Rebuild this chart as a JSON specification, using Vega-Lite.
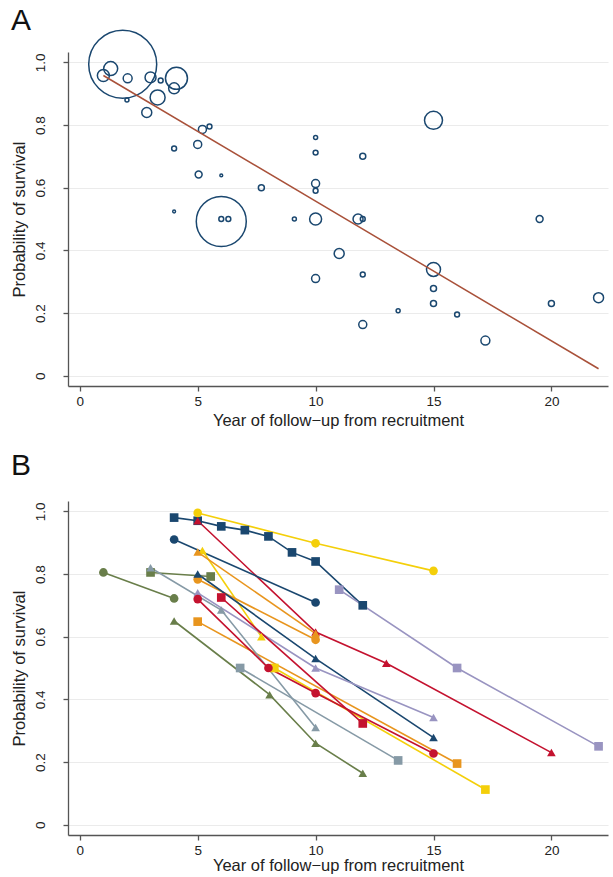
{
  "$schema": "https://vega.github.io/schema/vega-lite/v6.json",
  "background": "white",
  "padding": {"left": 11, "top": 6, "right": 3, "bottom": 2},
  "spacing": 22,
  "config": {
    "font": "Liberation Sans",
    "view": {"stroke": null},
    "axis": {
      "domainColor": "#555555",
      "domainWidth": 1.3,
      "tickColor": "#555555",
      "tickWidth": 1.3,
      "tickSize": 5,
      "labelFontSize": 13.5,
      "labelColor": "#222222",
      "titleFontSize": 16.5,
      "titleFontWeight": "normal",
      "titleColor": "#222222",
      "gridColor": "#ebebeb",
      "gridWidth": 1
    },
    "title": {"fontSize": 30, "fontWeight": "normal", "anchor": "start", "frame": "bounds", "color": "#111111"}
  },
  "datasets": {
    "bubbles": [
      {"year": 1.82, "surv": 0.994, "weight": 1156},
      {"year": 1.31, "surv": 0.98, "weight": 49},
      {"year": 1.0, "surv": 0.958, "weight": 36},
      {"year": 2.03, "surv": 0.949, "weight": 20},
      {"year": 2.0, "surv": 0.88, "weight": 4},
      {"year": 3.0, "surv": 0.952, "weight": 30},
      {"year": 3.43, "surv": 0.942, "weight": 6},
      {"year": 4.1, "surv": 0.949, "weight": 121},
      {"year": 4.0, "surv": 0.917, "weight": 30},
      {"year": 3.3, "surv": 0.888, "weight": 56},
      {"year": 2.84, "surv": 0.84, "weight": 25},
      {"year": 5.2, "surv": 0.786, "weight": 16},
      {"year": 5.5, "surv": 0.795, "weight": 6},
      {"year": 4.0, "surv": 0.725, "weight": 6},
      {"year": 5.0, "surv": 0.738, "weight": 16},
      {"year": 10.0, "surv": 0.76, "weight": 4},
      {"year": 10.0, "surv": 0.712, "weight": 6},
      {"year": 12.0, "surv": 0.70, "weight": 9},
      {"year": 15.0, "surv": 0.815, "weight": 81},
      {"year": 5.04, "surv": 0.642, "weight": 12},
      {"year": 6.0, "surv": 0.639, "weight": 2},
      {"year": 7.7, "surv": 0.60, "weight": 9},
      {"year": 10.0, "surv": 0.613, "weight": 16},
      {"year": 10.0, "surv": 0.59, "weight": 6},
      {"year": 6.0, "surv": 0.492, "weight": 625},
      {"year": 6.0, "surv": 0.50, "weight": 6},
      {"year": 6.3, "surv": 0.50, "weight": 6},
      {"year": 9.1, "surv": 0.50, "weight": 4},
      {"year": 10.0, "surv": 0.50, "weight": 36},
      {"year": 11.8, "surv": 0.50, "weight": 25},
      {"year": 12.0, "surv": 0.50, "weight": 6},
      {"year": 11.0, "surv": 0.39, "weight": 25},
      {"year": 15.0, "surv": 0.339, "weight": 49},
      {"year": 12.0, "surv": 0.323, "weight": 6},
      {"year": 10.0, "surv": 0.31, "weight": 16},
      {"year": 15.0, "surv": 0.278, "weight": 9},
      {"year": 15.0, "surv": 0.23, "weight": 9},
      {"year": 13.5, "surv": 0.207, "weight": 4},
      {"year": 16.0, "surv": 0.195, "weight": 6},
      {"year": 12.0, "surv": 0.163, "weight": 16},
      {"year": 19.5, "surv": 0.50, "weight": 12},
      {"year": 20.0, "surv": 0.23, "weight": 9},
      {"year": 22.0, "surv": 0.249, "weight": 25},
      {"year": 17.2, "surv": 0.112, "weight": 20},
      {"year": 4.0, "surv": 0.524, "weight": 2}
    ],
    "fit": [
      {"year": 1.0, "surv": 0.958},
      {"year": 22.0, "surv": 0.022}
    ],
    "studies": [
      {"study": "S01", "year": 4, "surv": 0.98},
      {"study": "S01", "year": 5, "surv": 0.97},
      {"study": "S01", "year": 6, "surv": 0.952},
      {"study": "S01", "year": 7, "surv": 0.94},
      {"study": "S01", "year": 8, "surv": 0.92},
      {"study": "S01", "year": 9, "surv": 0.869},
      {"study": "S01", "year": 10, "surv": 0.84},
      {"study": "S01", "year": 12, "surv": 0.70},
      {"study": "S02", "year": 5, "surv": 0.995},
      {"study": "S02", "year": 10, "surv": 0.898},
      {"study": "S02", "year": 15, "surv": 0.81},
      {"study": "S03", "year": 5, "surv": 0.97},
      {"study": "S03", "year": 10, "surv": 0.615},
      {"study": "S03", "year": 13, "surv": 0.515},
      {"study": "S03", "year": 20, "surv": 0.23},
      {"study": "S04", "year": 4, "surv": 0.91},
      {"study": "S04", "year": 10, "surv": 0.709},
      {"study": "S05", "year": 5.2, "surv": 0.875},
      {"study": "S05", "year": 7.7, "surv": 0.60},
      {"study": "S06", "year": 5, "surv": 0.87},
      {"study": "S06", "year": 10, "surv": 0.61},
      {"study": "S07", "year": 5, "surv": 0.783},
      {"study": "S07", "year": 10, "surv": 0.59},
      {"study": "S08", "year": 5, "surv": 0.648},
      {"study": "S08", "year": 16, "surv": 0.195},
      {"study": "S09", "year": 8.25, "surv": 0.50},
      {"study": "S09", "year": 17.2, "surv": 0.112},
      {"study": "S10", "year": 1, "surv": 0.805},
      {"study": "S10", "year": 4, "surv": 0.722},
      {"study": "S11", "year": 3, "surv": 0.805},
      {"study": "S11", "year": 5.55, "surv": 0.792},
      {"study": "S12", "year": 5, "surv": 0.80},
      {"study": "S12", "year": 10, "surv": 0.53},
      {"study": "S12", "year": 15, "surv": 0.278},
      {"study": "S13", "year": 4, "surv": 0.65},
      {"study": "S13", "year": 8.05, "surv": 0.415},
      {"study": "S13", "year": 10, "surv": 0.26},
      {"study": "S13", "year": 12, "surv": 0.164},
      {"study": "S14", "year": 3, "surv": 0.82},
      {"study": "S14", "year": 6, "surv": 0.685},
      {"study": "S14", "year": 10, "surv": 0.31},
      {"study": "S15", "year": 6.8, "surv": 0.50},
      {"study": "S15", "year": 13.5, "surv": 0.205},
      {"study": "S16", "year": 5, "surv": 0.74},
      {"study": "S16", "year": 10, "surv": 0.50},
      {"study": "S16", "year": 15, "surv": 0.342},
      {"study": "S17", "year": 11, "surv": 0.75},
      {"study": "S17", "year": 16, "surv": 0.50},
      {"study": "S17", "year": 22, "surv": 0.25},
      {"study": "S18", "year": 5, "surv": 0.72},
      {"study": "S18", "year": 8, "surv": 0.50},
      {"study": "S18", "year": 10, "surv": 0.42},
      {"study": "S18", "year": 15, "surv": 0.227},
      {"study": "S19", "year": 6, "surv": 0.725},
      {"study": "S19", "year": 12, "surv": 0.323}
    ]
  },
  "vconcat": [
    {
      "title": {"text": "A", "offset": -9},
      "width": 540,
      "height": 334,
      "layer": [
        {
          "data": {"name": "bubbles"},
          "mark": {"type": "point", "shape": "circle", "filled": false, "stroke": "#1a476f", "strokeWidth": 1.5, "opacity": 1},
          "encoding": {
            "x": {"field": "year", "type": "quantitative", "scale": {"domain": [-0.5, 22.4], "nice": false, "zero": false},
                  "axis": {"values": [0, 5, 10, 15, 20], "grid": false, "title": "Year of follow−up from recruitment", "titlePadding": 5, "labelPadding": 3}},
            "y": {"field": "surv", "type": "quantitative", "scale": {"domain": [-0.033, 1.033], "nice": false, "zero": false},
                  "axis": {"values": [0, 0.2, 0.4, 0.6, 0.8, 1.0], "labelExpr": "datum.value == 0 ? '0' : format(datum.value, '.1f')", "labelAngle": -90, "labelPadding": 16, "grid": true, "title": "Probability of survival", "titlePadding": 6}},
            "size": {"field": "weight", "type": "quantitative", "scale": {"type": "linear", "domain": [0, 1156], "range": [0, 4624], "zero": true}, "legend": null}
          }
        },
        {
          "data": {"name": "fit"},
          "mark": {"type": "line", "color": "#a9513a", "strokeWidth": 1.5},
          "encoding": {
            "x": {"field": "year", "type": "quantitative"},
            "y": {"field": "surv", "type": "quantitative"}
          }
        }
      ]
    },
    {
      "title": {"text": "B", "offset": 20},
      "width": 540,
      "height": 334,
      "data": {"name": "studies"},
      "encoding": {
        "x": {"field": "year", "type": "quantitative", "scale": {"domain": [-0.5, 22.4], "nice": false, "zero": false},
              "axis": {"values": [0, 5, 10, 15, 20], "grid": false, "title": "Year of follow−up from recruitment", "titlePadding": 1, "labelPadding": 3}},
        "y": {"field": "surv", "type": "quantitative", "scale": {"domain": [-0.033, 1.033], "nice": false, "zero": false},
              "axis": {"values": [0, 0.2, 0.4, 0.6, 0.8, 1.0], "labelExpr": "datum.value == 0 ? '0' : format(datum.value, '.1f')", "labelAngle": -90, "labelPadding": 16, "grid": true, "title": "Probability of survival", "titlePadding": 6}},
        "color": {"field": "study", "type": "nominal", "legend": null,
                  "scale": {"domain": ["S01","S02","S03","S04","S05","S06","S07","S08","S09","S10","S11","S12","S13","S14","S15","S16","S17","S18","S19"],
                            "range": ["#1a476f","#f4cf0a","#c4122f","#1a476f","#f4cf0a","#e8951e","#e8951e","#e8951e","#f4cf0a","#697e4a","#697e4a","#1a476f","#697e4a","#869aa6","#869aa6","#9994c1","#9994c1","#c4122f","#c4122f"]}}
      },
      "layer": [
        {
          "mark": {"type": "line", "strokeWidth": 1.6},
          "encoding": {"detail": {"field": "study", "type": "nominal"}}
        },
        {
          "mark": {"type": "point", "filled": true, "opacity": 1, "size": 75},
          "encoding": {
            "shape": {"field": "study", "type": "nominal", "legend": null,
                      "scale": {"domain": ["S01","S02","S03","S04","S05","S06","S07","S08","S09","S10","S11","S12","S13","S14","S15","S16","S17","S18","S19"],
                                "range": ["square","circle","triangle-up","circle","triangle-up","triangle-up","circle","square","square","circle","square","triangle-up","triangle-up","triangle-up","square","triangle-up","square","circle","square"]}}
          }
        }
      ]
    }
  ]
}
